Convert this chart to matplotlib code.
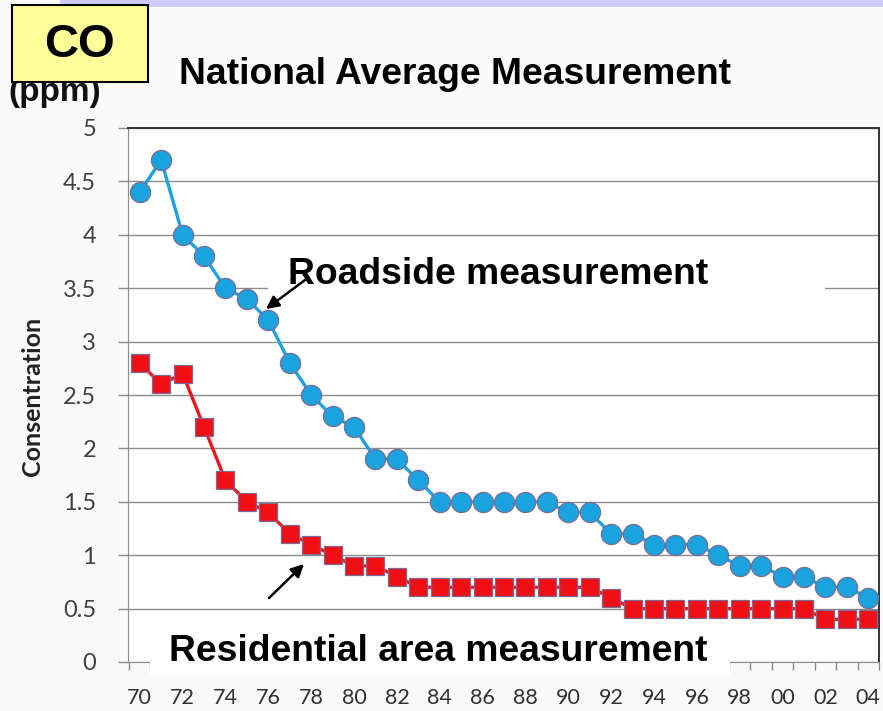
import matplotlib
matplotlib.use("Agg")
import matplotlib.pyplot as plt
from matplotlib.patches import Rectangle, FancyArrowPatch
import numpy as np

# Years 1970-2004 (two-digit labels)
years = list(range(1970, 2005))
tick_years = list(range(1970, 2005, 2))
tick_labels = [f"{y % 100:02d}" for y in tick_years]

# Annual mean CO concentration (ppm)
roadside = [4.4, 4.7, 4.0, 3.8, 3.5, 3.4, 3.2, 2.8, 2.5, 2.3,
            2.2, 1.9, 1.9, 1.7, 1.5, 1.5, 1.5, 1.5, 1.5, 1.5,
            1.4, 1.4, 1.2, 1.2, 1.1, 1.1, 1.1, 1.0, 0.9, 0.9,
            0.8, 0.8, 0.7, 0.7, 0.6]
residential = [2.8, 2.6, 2.7, 2.2, 1.7, 1.5, 1.4, 1.2, 1.1, 1.0,
               0.9, 0.9, 0.8, 0.7, 0.7, 0.7, 0.7, 0.7, 0.7, 0.7,
               0.7, 0.7, 0.6, 0.5, 0.5, 0.5, 0.5, 0.5, 0.5, 0.5,
               0.5, 0.5, 0.4, 0.4, 0.4]

W, H = 883, 711
fig = plt.figure(figsize=(W / 100, H / 100), dpi=100, facecolor="#fafafa")


def fx(x):
    return x / W


def fy(y):
    return 1 - y / H


# plot area
ax_l, ax_r, ax_t, ax_b = 128, 879, 128, 662
ax = fig.add_axes([fx(ax_l), fy(ax_b), fx(ax_r - ax_l), (ax_b - ax_t) / H])
ax.set_facecolor("white")

x = np.array(years)
ax.plot(x, roadside, color="#1BA3DF", lw=2.4, marker="o", ms=14.5,
        mfc="#1BA3DF", mec="#7d6a93", mew=0.9, zorder=4)
ax.plot(x, residential, color="#EE1520", lw=2.4, marker="s", ms=13.2,
        mfc="#EE1015", mec="#7d6a93", mew=0.9, zorder=3)

ax.set_xlim(1969.45, 2004.45)
ax.set_ylim(0, 5)
ax.set_yticks(np.arange(0, 5.01, 0.5))
ax.set_yticklabels(["0", "0.5", "1", "1.5", "2", "2.5", "3", "3.5", "4", "4.5", "5"])
ax.set_xticks(tick_years)
ax.set_xticklabels(tick_labels)
ax.set_xticks(np.arange(1969.5, 2005, 1), minor=True)

ax.yaxis.grid(True, color="#8c8c8c", lw=1.0)
ax.set_axisbelow(True)

ax.tick_params(axis="y", length=7, width=1, color="#8c8c8c", pad=16,
               labelsize=17, labelcolor="#404040")
ax.tick_params(axis="x", which="major", length=0, pad=19,
               labelsize=15.5, labelcolor="#303030")
ax.tick_params(axis="x", which="minor", length=6, width=1, color="#8c8c8c")
for lab in ax.get_xticklabels() + ax.get_yticklabels():
    lab.set_fontfamily("Lato")

ax.spines["left"].set_color("#8c8c8c")
ax.spines["bottom"].set_color("#8c8c8c")
ax.spines["top"].set_color("#333333")
ax.spines["right"].set_color("#333333")
ax.spines["top"].set_linewidth(1.4)
ax.spines["right"].set_linewidth(1.4)

fig.text(fx(33), fy(396), "Consentration", rotation=90, ha="center",
         va="center", fontsize=18, fontweight="bold", family="Lato",
         color="#222222")

# header band
fig.add_artist(Rectangle((fx(60), fy(7)), 1 - fx(60), 7 / H,
                         transform=fig.transFigure, facecolor="#CCCCFF",
                         edgecolor="none", zorder=1))

# unit label and species box
fig.text(fx(8), fy(101), "(ppm)", ha="left", va="baseline", fontsize=24,
         fontweight="bold", family="Liberation Sans", color="#111111",
         zorder=4)
fig.add_artist(Rectangle((fx(12), fy(82)), fx(136), 77 / H,
                         transform=fig.transFigure, facecolor="#FFFF99",
                         edgecolor="black", lw=1.5, zorder=5))
fig.text(fx(80), fy(57), "CO", ha="center", va="baseline", fontsize=34,
         fontweight="bold", family="Liberation Sans", color="black",
         zorder=6)

fig.text(fx(455), fy(84), "National Average Measurement", ha="center",
         va="baseline", fontsize=26.8, fontweight="bold",
         family="Liberation Sans", color="black", zorder=6)

# series captions on white boxes
fig.add_artist(Rectangle((fx(268), fy(300)), fx(825 - 268), 48 / H,
                         transform=fig.transFigure, facecolor="white",
                         edgecolor="none", zorder=5))
fig.text(fx(498), fy(284), "Roadside measurement", ha="center",
         va="baseline", fontsize=26.8, fontweight="bold",
         family="Liberation Sans", color="black", zorder=6)

fig.add_artist(Rectangle((fx(150), fy(675)), fx(730 - 150), 50 / H,
                         transform=fig.transFigure, facecolor="white",
                         edgecolor="none", zorder=5))
fig.text(fx(438), fy(661), "Residential area measurement", ha="center",
         va="baseline", fontsize=26.8, fontweight="bold",
         family="Liberation Sans", color="black", zorder=6)

# arrows pointing at the series
arrow = dict(arrowstyle="-|>", color="black", lw=1.8, mutation_scale=19,
             shrinkA=0, shrinkB=0)
fig.add_artist(FancyArrowPatch((fx(305), fy(280)), (fx(266), fy(309)),
                               transform=fig.transFigure, zorder=7, **arrow))
fig.add_artist(FancyArrowPatch((fx(269), fy(598)), (fx(304), fy(564)),
                               transform=fig.transFigure, zorder=7, **arrow))

fig.savefig("out.png", dpi=100, facecolor=fig.get_facecolor())
